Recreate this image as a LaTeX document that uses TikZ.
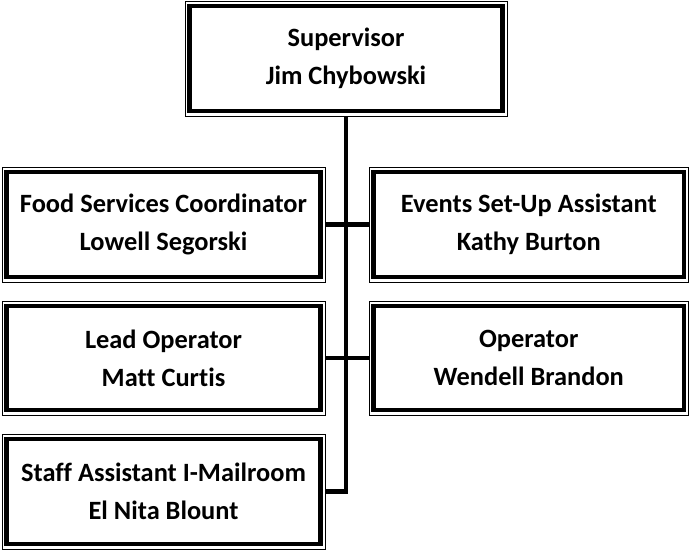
\documentclass[tikz,border=0pt]{standalone}
\usepackage{fontspec}
\setmainfont{Carlito}[Ligatures={NoCommon}]
\begin{document}
\begin{tikzpicture}[x=1pt,y=-1pt,
  box/.style={draw=black, line width=1pt, rectangle, align=center, inner sep=0pt,
    minimum height=115pt, font=\fontsize{26.4}{38}\selectfont\bfseries},
  lbox/.style={box, minimum width=323pt},
  rbox/.style={box, minimum width=319.5pt},
  inner/.style={line width=4.5pt},
  conn/.style={line width=4.5pt}]
\useasboundingbox (0,0) rectangle (689,550);
\node[box, minimum width=322pt] (sup) at (346,58.5) {Supervisor\\Jim Chybowski};
\node[lbox] (food) at (163.5,224.5) {Food Services Coordinator\\Lowell Segorski};
\node[rbox] (events) at (528.75,224.5) {Events Set-Up Assistant\\Kathy Burton};
\node[lbox, minimum height=114pt] (lead) at (163.5,358) {Lead Operator\\Matt Curtis};
\node[rbox, minimum height=114pt] (oper) at (528.75,358) {Operator\\Wendell Brandon};
\node[lbox] (staff) at (163.5,491.5) {Staff Assistant I-Mailroom\\El Nita Blount};
\foreach \n in {sup,food,events,lead,oper,staff}{
  \draw[inner] ([xshift=5pt,yshift=-5.5pt]\n.north west) rectangle ([xshift=-5pt,yshift=5.5pt]\n.south east);
}
\draw[conn] (sup.south) |- (staff.east);
\draw[conn] (food.east) -- (events.west);
\draw[conn] (lead.east) -- (oper.west);
\end{tikzpicture}
\end{document}
